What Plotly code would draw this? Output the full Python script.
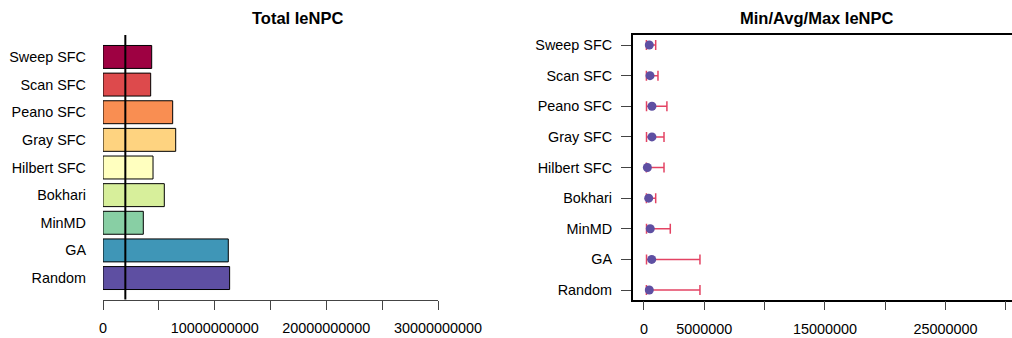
import plotly.graph_objects as go

# ---- data ----
categories = ["Sweep SFC", "Scan SFC", "Peano SFC", "Gray SFC", "Hilbert SFC",
              "Bokhari", "MinMD", "GA", "Random"]
total_ienpc = [4.36e9, 4.27e9, 6.24e9, 6.51e9, 4.48e9, 5.49e9, 3.61e9, 11.22e9, 11.34e9]
threshold = 2.0e9
bar_colors = ["#9E0142", "#DD4A4C", "#F98E52", "#FED380", "#FFFFBF",
              "#D7EF9B", "#88CFA4", "#3F96B7", "#5E4FA2"]

min_ienpc = [0.20e6, 0.20e6, 0.21e6, 0.21e6, 0.20e6, 0.20e6, 0.21e6, 0.21e6, 0.20e6]
avg_ienpc = [0.44e6, 0.50e6, 0.66e6, 0.66e6, 0.28e6, 0.39e6, 0.52e6, 0.64e6, 0.44e6]
max_ienpc = [0.97e6, 1.16e6, 1.90e6, 1.66e6, 1.66e6, 0.97e6, 2.18e6, 4.64e6, 4.64e6]

left_tickvals = [0, 5e9, 1e10, 1.5e10, 2e10, 2.5e10, 3e10]
left_ticktext = ["0", "", "10000000000", "", "20000000000", "", "30000000000"]
right_tickvals = [0, 5e6, 1e7, 1.5e7, 2e7, 2.5e7, 3e7]
right_ticktext = ["0", "5000000", "", "15000000", "", "25000000", ""]

# figure is slightly wider than the 1012px window so the open right side of the
# right panel's box falls outside the visible area, as in the reference
W, H = 1030, 338
FONT = "Liberation Sans, Arial, sans-serif"
TICKFS = 14.4
X2_RANGE = [-0.936e6, 32.0e6]

def px_x(p):
    return p / W

def px_y(p):
    return (H - p) / H

fig = go.Figure()

fig.add_trace(go.Bar(
    y=categories, x=total_ienpc, orientation="h",
    marker=dict(color=bar_colors, line=dict(color="black", width=1)),
    xaxis="x", yaxis="y", showlegend=False,
))

err_plus = [mx - a for mx, a in zip(max_ienpc, avg_ienpc)]
err_minus = [a - mn for mn, a in zip(min_ienpc, avg_ienpc)]
fig.add_trace(go.Scatter(
    y=categories, x=avg_ienpc, mode="markers",
    marker=dict(color="#5E4FA2", size=9),
    error_x=dict(type="data", symmetric=False, array=err_plus, arrayminus=err_minus,
                 color="rgba(220,20,60,0.8)", thickness=1.5, width=5),
    xaxis="x2", yaxis="y2", showlegend=False,
))

# threshold line in the left panel
fig.add_shape(type="line", xref="x", yref="y domain", x0=threshold, x1=threshold,
              y0=0, y1=1, line=dict(color="black", width=2))

box_left, box_top, box_bottom = 632.7, 35, 299.5
y_dom = [px_y(box_bottom), px_y(box_top)]

common = dict(showgrid=False, zeroline=False, automargin=False, showspikes=False,
              tickfont=dict(size=TICKFS))

fig.update_layout(
    template="none",
    width=W, height=H,
    margin=dict(l=0, r=0, t=0, b=0, pad=0),
    paper_bgcolor="white", plot_bgcolor="white",
    font=dict(family=FONT, size=TICKFS, color="black"),
    bargap=0.17,
    xaxis=dict(domain=[px_x(103), px_x(438)], range=[0, 3e10],
               tickvals=left_tickvals, ticktext=left_ticktext,
               showline=True, linecolor="#444", linewidth=1.2,
               ticks="outside", ticklen=9, tickcolor="#444", tickwidth=1.2,
               ticklabelstandoff=6, **common),
    yaxis=dict(domain=y_dom, type="category", categoryorder="array",
               categoryarray=categories, range=[8.776, -0.794],
               showline=False, ticks="", ticklabelstandoff=16, **common),
    xaxis2=dict(domain=[px_x(box_left), 1.0], range=X2_RANGE,
                anchor="y2",
                tickvals=right_tickvals, ticktext=right_ticktext,
                showline=True, mirror=True, linecolor="black", linewidth=1.5,
                ticks="outside", ticklen=9, tickcolor="#444", tickwidth=1.2,
                ticklabelstandoff=6, **common),
    yaxis2=dict(domain=y_dom, anchor="x2", type="category", categoryorder="array",
                categoryarray=categories, range=[8.31, -0.327],
                showline=True, mirror=False, linecolor="black", linewidth=1.5,
                ticks="outside", ticklen=10, tickcolor="#444", tickwidth=1.2,
                ticklabelstandoff=6, **common),
    annotations=[
        dict(text="<b>Total IeNPC</b>", x=px_x(297), y=px_y(18), xref="paper", yref="paper",
             showarrow=False, xanchor="center", yanchor="middle",
             font=dict(size=16.5, family=FONT, color="black")),
        dict(text="<b>Min/Avg/Max IeNPC</b>", x=px_x(816), y=px_y(18), xref="paper", yref="paper",
             showarrow=False, xanchor="center", yanchor="middle",
             font=dict(size=16.5, family=FONT, color="black")),
    ],
)

fig.write_html(
    "out.html", config={"displayModeBar": False},
    post_script=("document.body.style.margin='0px';"
                 "document.body.style.overflow='hidden';"
                 "document.documentElement.style.overflow='hidden';"),
)
